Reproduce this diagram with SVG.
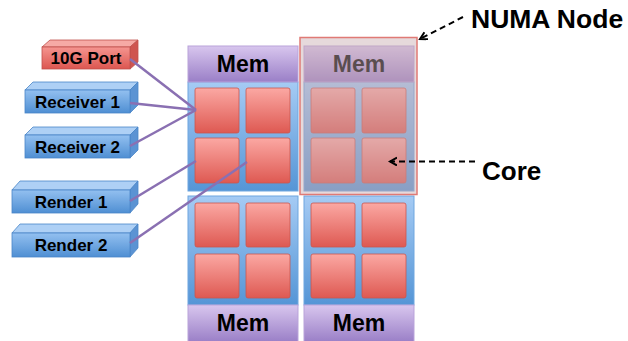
<svg xmlns="http://www.w3.org/2000/svg" width="628" height="341" viewBox="0 0 628 341">
<defs>
<linearGradient id="gBody" x1="0" y1="0" x2="0" y2="1"><stop offset="0" stop-color="#a5cbf4"/><stop offset="1" stop-color="#5595d6"/></linearGradient>
<linearGradient id="gMem" x1="0" y1="0" x2="0" y2="1"><stop offset="0" stop-color="#d8c6ee"/><stop offset="1" stop-color="#9a7fc7"/></linearGradient>
<linearGradient id="gCore" x1="0" y1="0" x2="0" y2="1"><stop offset="0" stop-color="#fba8a3"/><stop offset="1" stop-color="#de5952"/></linearGradient>
<linearGradient id="gBlue" x1="0" y1="0" x2="0" y2="1"><stop offset="0" stop-color="#93c0f0"/><stop offset="1" stop-color="#4f8fd3"/></linearGradient>
<linearGradient id="gRed" x1="0" y1="0" x2="0" y2="1"><stop offset="0" stop-color="#f59590"/><stop offset="1" stop-color="#dc5650"/></linearGradient>
<marker id="chev" markerWidth="10" markerHeight="10" refX="7" refY="4" orient="auto" markerUnits="userSpaceOnUse">
<path d="M0,0 L7,4 L0,8" fill="none" stroke="#000" stroke-width="2"/>
</marker>
</defs>
<style>
.body{fill:url(#gBody);stroke:#6fa6df;stroke-width:1}
.mem{fill:url(#gMem);stroke:#b9a3da;stroke-width:1}
.core{fill:url(#gCore);stroke:#c9554f;stroke-width:0.8}
.memt{font-family:"Liberation Sans",Arial,sans-serif;font-weight:bold;font-size:23px;fill:#000;text-anchor:middle}
.lbl{font-family:"Liberation Sans",Arial,sans-serif;font-weight:bold;font-size:17px;fill:#000;text-anchor:middle}
.ann{font-family:"Liberation Sans",Arial,sans-serif;font-weight:bold;fill:#000}
.bf{fill:url(#gBlue);stroke:#4a86c8;stroke-width:0.8}
.bt{fill:#aed0f5;stroke:#4a86c8;stroke-width:0.8}
.bs{fill:#5b93d3;stroke:#4a86c8;stroke-width:0.8}
.rf{fill:url(#gRed);stroke:#c0504d;stroke-width:0.8}
.rt{fill:#f6aaa5;stroke:#c0504d;stroke-width:0.8}
.rs{fill:#cf5550;stroke:#c0504d;stroke-width:0.8}
.conn{stroke:#8a70b2;stroke-width:2.5;fill:none}
.dash{stroke:#000;stroke-width:2;stroke-dasharray:6 4;fill:none}
</style>

<g id="numa-tl">
<rect class="body" x="188" y="82" width="110" height="109"/>
<rect class="mem" x="188" y="46" width="110" height="36"/>
<text class="memt" x="243" y="72">Mem</text>
<rect class="core" x="195" y="88" width="44" height="45" rx="2"/>
<rect class="core" x="246" y="88" width="44" height="45" rx="2"/>
<rect class="core" x="195" y="138" width="44" height="45" rx="2"/>
<rect class="core" x="246" y="138" width="44" height="45" rx="2"/>
</g>
<g id="numa-tr">
<rect class="body" x="304" y="82" width="110" height="109"/>
<rect class="mem" x="304" y="46" width="110" height="36"/>
<text class="memt" x="359" y="72">Mem</text>
<rect class="core" x="311" y="88" width="44" height="45" rx="2"/>
<rect class="core" x="362" y="88" width="44" height="45" rx="2"/>
<rect class="core" x="311" y="138" width="44" height="45" rx="2"/>
<rect class="core" x="362" y="138" width="44" height="45" rx="2"/>
</g>
<g id="numa-bl">
<rect class="body" x="188" y="196" width="110" height="109"/>
<rect class="mem" x="188" y="305" width="110" height="37"/>
<text class="memt" x="243" y="331">Mem</text>
<rect class="core" x="195" y="203" width="44" height="44" rx="2"/>
<rect class="core" x="246" y="203" width="44" height="44" rx="2"/>
<rect class="core" x="195" y="254" width="44" height="44" rx="2"/>
<rect class="core" x="246" y="254" width="44" height="44" rx="2"/>
</g>
<g id="numa-br">
<rect class="body" x="304" y="196" width="110" height="109"/>
<rect class="mem" x="304" y="305" width="110" height="37"/>
<text class="memt" x="359" y="331">Mem</text>
<rect class="core" x="311" y="203" width="44" height="44" rx="2"/>
<rect class="core" x="362" y="203" width="44" height="44" rx="2"/>
<rect class="core" x="311" y="254" width="44" height="44" rx="2"/>
<rect class="core" x="362" y="254" width="44" height="44" rx="2"/>
</g>
<g id="numa-highlight">
<rect x="300" y="37.5" width="117" height="157" fill="#c8aaaf" fill-opacity="0.45" stroke="#e07a75" stroke-width="1.5"/>
</g>

<g id="port-10g">
<polygon class="rt" points="42,47 50,40 138,40 130,47"/>
<polygon class="rs" points="130,47 138,40 138,62 130,69"/>
<rect class="rf" x="42" y="47" width="88" height="22"/>
<text class="lbl" x="86" y="64">10G Port</text>
</g>
<g id="receiver-1">
<polygon class="bt" points="25,90 33,82 138,82 130,90"/>
<polygon class="bs" points="130,90 138,82 138,105 130,113"/>
<rect class="bf" x="25" y="90" width="105" height="23"/>
<text class="lbl" x="77.5" y="108">Receiver 1</text>
</g>
<g id="receiver-2">
<polygon class="bt" points="25,135 33,127 138,127 130,135"/>
<polygon class="bs" points="130,135 138,127 138,150 130,158"/>
<rect class="bf" x="25" y="135" width="105" height="23"/>
<text class="lbl" x="77.5" y="153">Receiver 2</text>
</g>
<g id="render-1">
<polygon class="bt" points="12,190 20,181 138,181 130,190"/>
<polygon class="bs" points="130,190 138,181 138,204 130,213"/>
<rect class="bf" x="12" y="190" width="118" height="23"/>
<text class="lbl" x="71" y="207.5">Render 1</text>
</g>
<g id="render-2">
<polygon class="bt" points="12,233 20,224 138,224 130,233"/>
<polygon class="bs" points="130,233 138,224 138,248 130,257"/>
<rect class="bf" x="12" y="233" width="118" height="24"/>
<text class="lbl" x="71" y="251">Render 2</text>
</g>

<g id="connectors">
<line class="conn" x1="130" y1="59" x2="196" y2="110"/>
<line class="conn" x1="130" y1="103" x2="196" y2="110"/>
<line class="conn" x1="130" y1="146" x2="196" y2="110"/>
<line class="conn" x1="130" y1="201" x2="196" y2="161"/>
<line class="conn" x1="130" y1="243" x2="247" y2="162"/>
<line class="dash" x1="463" y1="17" x2="420" y2="39" marker-end="url(#chev)"/>
<line class="dash" x1="475" y1="161.5" x2="390" y2="161.5" marker-end="url(#chev)"/>
</g>

<g id="label-numa">
<text class="ann" x="471" y="28" font-size="26.5">NUMA Node</text>
</g>
<g id="label-core">
<text class="ann" x="482" y="180" font-size="26">Core</text>
</g>
</svg>
